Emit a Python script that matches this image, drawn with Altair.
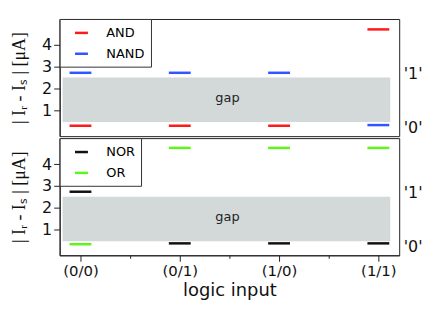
import json
import altair as alt
import pandas as pd

# ---- data ----
inputs = ["(0/0)", "(0/1)", "(1/0)", "(1/1)"]
positions = [0, 1, 2, 3]

top_names = ["AND", "NAND"]
and_vals = [0.28, 0.28, 0.28, 4.72]
nand_vals = [2.72, 2.72, 2.72, 0.31]
top_colors = ["#ff1a1a", "#3355ff"]

bottom_names = ["NOR", "OR"]
nor_vals = [2.73, 0.35, 0.35, 0.35]
or_vals = [0.31, 4.75, 4.75, 4.75]
bottom_colors = ["#111111", "#5ef51c"]

gap_low = [0.45]
gap_high = [2.5]
gap_start = [-0.18]
gap_end = [3.12]
gap_label = ["gap"]
gap_label_pos = [1.48]
gap_label_y = [1.55]

level_vals = [0.2, 2.7]
level_labels = ["'0'", "'1'"]

XDOM = [-0.21, 3.21]
YDOM = [-0.2, 5.2]
W, H = 342, 118
FONT = "DejaVu Sans"


def panel(names, series, colors, show_x):
    rows = []
    for n, v in zip(names, series):
        for p, val in zip(positions, v):
            rows.append({"gate": n, "pos": p, "val": val})
    df = pd.DataFrame(rows)
    gap_df = pd.DataFrame({"x": gap_start, "x2": gap_end, "y": gap_low, "y2": gap_high})
    txt_df = pd.DataFrame({"x": gap_label_pos, "y": gap_label_y, "t": gap_label})

    xscale = alt.Scale(domain=XDOM, nice=False, zero=False)
    yscale = alt.Scale(domain=YDOM, nice=False, zero=False)
    if show_x:
        xaxis = alt.Axis(
            values=[0, 0.5, 1, 1.5, 2, 2.5, 3],
            labelExpr=f"datum.value % 1 === 0 ? {json.dumps(inputs)}[datum.value] : ''",
            tickSize={"condition": {"test": "datum.value % 1 === 0", "value": 6}, "value": 3},
            title="logic input", titleFontSize=18, titleFont=FONT, titleFontWeight="normal",
            labelFontSize=15, labelPadding=2, titlePadding=3, grid=False,
        )
    else:
        xaxis = None
    yaxis = alt.Axis(
        values=[1, 2, 3, 4], title="| Iᵣ - Iₛ | [μA]", titleFont="Liberation Serif",
        titleFontSize=18, titleFontWeight="normal", titlePadding=13,
        labelFontSize=16, tickSize=6, labelPadding=2, grid=False,
    )

    gap = alt.Chart(gap_df).mark_rect(color="#d3d9d8").encode(
        x=alt.X("x:Q", scale=xscale, axis=xaxis), x2="x2:Q",
        y=alt.Y("y:Q", scale=yscale, axis=yaxis), y2="y2:Q",
    )
    gaptext = alt.Chart(txt_df).mark_text(fontSize=13, font=FONT, color="#222").encode(
        x=alt.X("x:Q", scale=xscale, axis=xaxis),
        y=alt.Y("y:Q", scale=yscale, axis=yaxis),
        text="t:N",
    )
    lines = alt.Chart(df).transform_calculate(
        xa="datum.pos - 0.11", xb="datum.pos + 0.11"
    ).mark_rule(strokeWidth=2.5, strokeCap="butt").encode(
        x=alt.X("xa:Q", scale=xscale, axis=xaxis), x2="xb:Q",
        y=alt.Y("val:Q", scale=yscale, axis=yaxis),
        color=alt.Color("gate:N", scale=alt.Scale(domain=names, range=colors),
                        legend=alt.Legend(title=None)),
    )
    right = alt.Chart(pd.DataFrame({"v": level_vals})).mark_point(opacity=0, size=1).encode(
        y=alt.Y("v:Q", scale=yscale, axis=alt.Axis(
            orient="right", values=level_vals,
            labelExpr=f"{json.dumps(level_labels)}[indexof({json.dumps(level_vals)}, datum.value)]",
            tickSize=0, domain=False, labelPadding=4, labelFontSize=16, title=None, grid=False,
        )),
    )
    inner = alt.layer(gap, gaptext, lines).properties(width=W, height=H)
    return alt.layer(inner, right).resolve_scale(y="independent").properties(width=W, height=H)


top = panel(top_names, [and_vals, nand_vals], top_colors, False)
bottom = panel(bottom_names, [nor_vals, or_vals], bottom_colors, True)

chart = alt.vconcat(top, bottom, spacing=0).resolve_scale(color="independent").properties(
    padding={"left": 2, "top": 9, "right": 5, "bottom": 5}
).configure_view(
    stroke="#222", strokeWidth=1
).configure_axis(
    domainColor="#222", tickColor="#222", labelColor="#111", titleColor="#111",
    labelFont=FONT, domainWidth=1,
).configure_legend(
    orient="top-left", offset=0, strokeColor="#333", fillColor="white", padding=6,
    symbolOffset=8, labelOffset=17, symbolType="stroke", symbolSize=169,
    symbolStrokeWidth=2.5, labelFontSize=13, labelFont=FONT, rowPadding=6, cornerRadius=0,
)

chart.save("out.html", embed_options={"renderer": "svg", "actions": False})
